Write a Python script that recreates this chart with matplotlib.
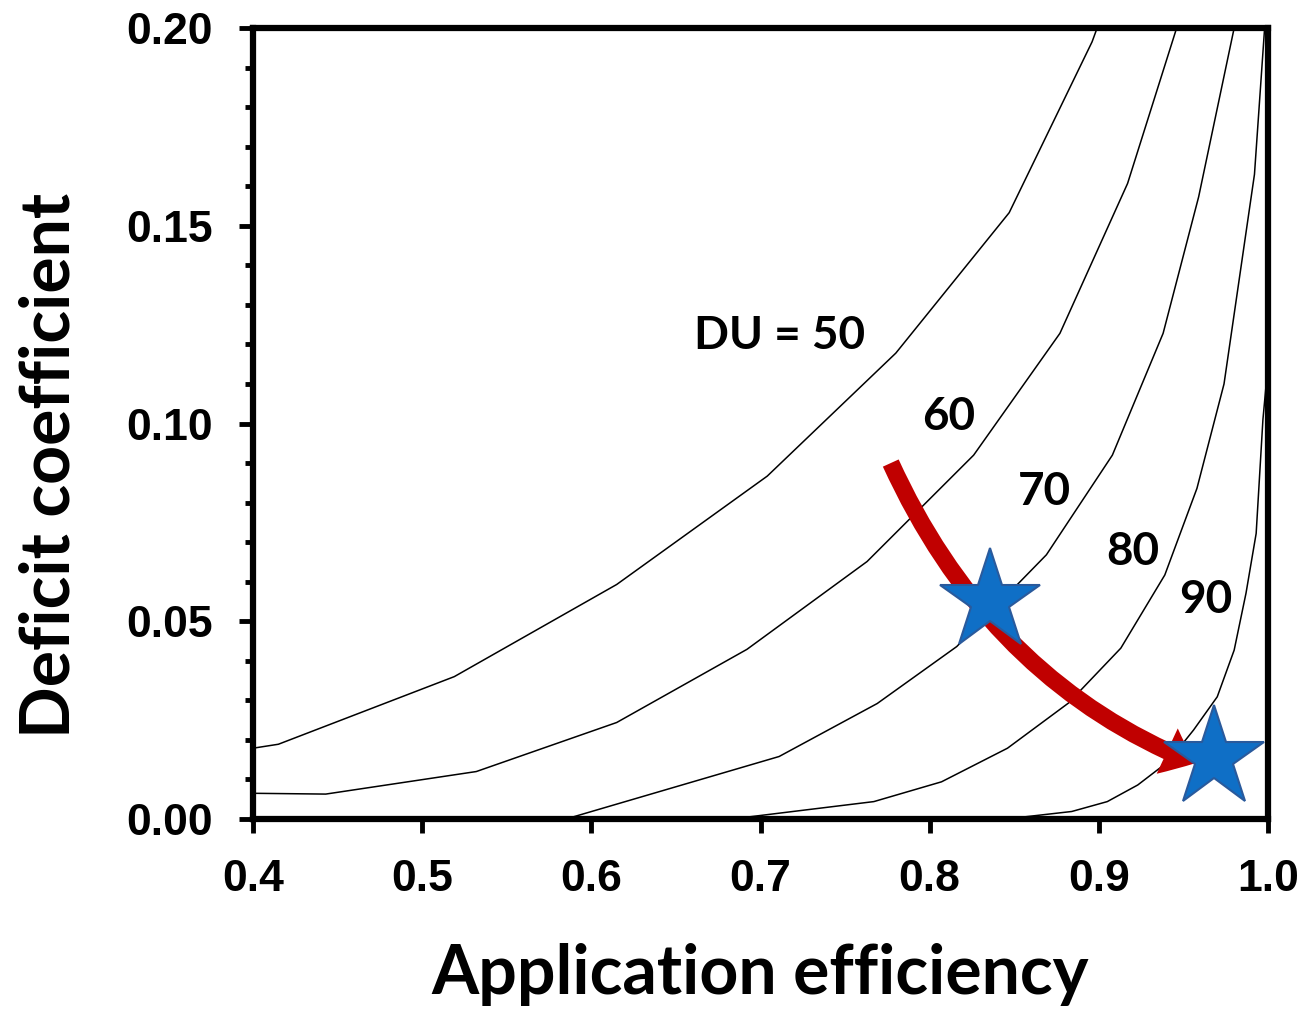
import matplotlib
matplotlib.use("Agg")
import matplotlib.pyplot as plt
from matplotlib.patches import FancyArrowPatch, ArrowStyle
from matplotlib.path import Path
from matplotlib.ticker import MultipleLocator

# DU contour lines (application efficiency, deficit coefficient)
ae_50 = [0.400, 0.415, 0.519, 0.615, 0.704, 0.780, 0.847, 0.896, 0.899]
dc_50 = [0.0179, 0.0189, 0.0360, 0.0593, 0.0867, 0.1178, 0.1533, 0.1965, 0.200]

ae_60 = [0.400, 0.443, 0.532, 0.615, 0.692, 0.763, 0.826, 0.877, 0.917, 0.946]
dc_60 = [0.0065, 0.0063, 0.0120, 0.0244, 0.0429, 0.0651, 0.0920, 0.1228, 0.1607, 0.200]

ae_70 = [0.585, 0.711, 0.769, 0.816, 0.869, 0.908, 0.938, 0.959, 0.980]
dc_70 = [0.000, 0.0158, 0.0292, 0.0436, 0.0668, 0.0920, 0.1228, 0.1573, 0.200]

ae_80 = [0.683, 0.723, 0.767, 0.807, 0.846, 0.882, 0.913, 0.939, 0.958, 0.974, 0.992, 0.998]
dc_80 = [0.000, 0.0021, 0.0044, 0.0094, 0.0179, 0.0293, 0.0432, 0.0617, 0.0836, 0.110, 0.163, 0.200]

ae_90 = [0.845, 0.884, 0.905, 0.923, 0.941, 0.956, 0.970, 0.980, 0.987, 0.993, 0.997, 1.000]
dc_90 = [0.000, 0.0019, 0.0044, 0.0086, 0.0145, 0.0225, 0.0309, 0.0427, 0.0571, 0.0722, 0.101, 0.115]

curves = [(ae_50, dc_50), (ae_60, dc_60), (ae_70, dc_70), (ae_80, dc_80), (ae_90, dc_90)]

du_labels = ["DU = 50", "60", "70", "80", "90"]
label_x = [0.7115, 0.811, 0.868, 0.920, 0.963]
label_y = [0.1221, 0.1016, 0.0827, 0.0675, 0.0554]

# before / after points and the arrow between them
ae_star = [0.8356, 0.968]
dc_star = [0.0551, 0.0154]
arrow_ae = [0.777, 0.8357, 0.957]
arrow_dc = [0.090, 0.035, 0.0141]

xticks = [0.4, 0.5, 0.6, 0.7, 0.8, 0.9, 1.0]
yticks = [0.00, 0.05, 0.10, 0.15, 0.20]

lbl_font = "Lato"
tick_font = "Liberation Sans"

fig = plt.figure(figsize=(13.07, 10.10), dpi=100)
ax = fig.add_axes([253 / 1307, 1 - 819 / 1010, (1268 - 253) / 1307, (819 - 28) / 1010])

for xs, ys in curves:
    ax.plot(xs, ys, color="black", lw=1.1, zorder=2)

for txt, lx, ly in zip(du_labels, label_x, label_y):
    ax.text(lx, ly, txt, ha="center", va="center", fontsize=33,
            fontweight="bold", family=lbl_font, zorder=3)

arrow_path = Path(list(zip(arrow_ae, arrow_dc)), [Path.MOVETO, Path.CURVE3, Path.CURVE3])
arrow = FancyArrowPatch(path=arrow_path,
                        arrowstyle=ArrowStyle.Simple(head_length=2.2, head_width=3.6, tail_width=1.25),
                        mutation_scale=10, color="#C00000", lw=0, zorder=4)
ax.add_patch(arrow)

ax.plot(ae_star, dc_star, ls="none", marker="*", markersize=76,
        markerfacecolor="#0F6FC6", markeredgecolor="#2A5A9C", markeredgewidth=1.5,
        zorder=5, clip_on=False)

ax.set_xlim(0.4, 1.0)
ax.set_ylim(0, 0.2)
ax.set_xticks(xticks)
ax.set_yticks(yticks)
ax.set_xticklabels([f"{v:.1f}" for v in xticks])
ax.set_yticklabels([f"{v:.2f}" for v in yticks])
ax.yaxis.set_minor_locator(MultipleLocator(0.01))

for sp in ax.spines.values():
    sp.set_linewidth(4.5)
ax.tick_params(axis="both", which="major", direction="out", length=10, width=3.5, pad=19)
ax.tick_params(axis="y", which="minor", direction="out", length=6, width=3.5)
for lab in ax.get_xticklabels() + ax.get_yticklabels():
    lab.set_family(tick_font)
    lab.set_fontweight("bold")
    lab.set_fontsize(32)

fig.text(760 / 1307, 1 - 975 / 1010, "Application efficiency", ha="center", va="center",
         fontsize=49, fontweight="bold", family=lbl_font)
fig.text(50 / 1307, 1 - 465 / 1010, "Deficit coefficient", ha="center", va="center",
         rotation=90, fontsize=49, fontweight="bold", family=lbl_font)

fig.savefig("out.png", dpi=100)
